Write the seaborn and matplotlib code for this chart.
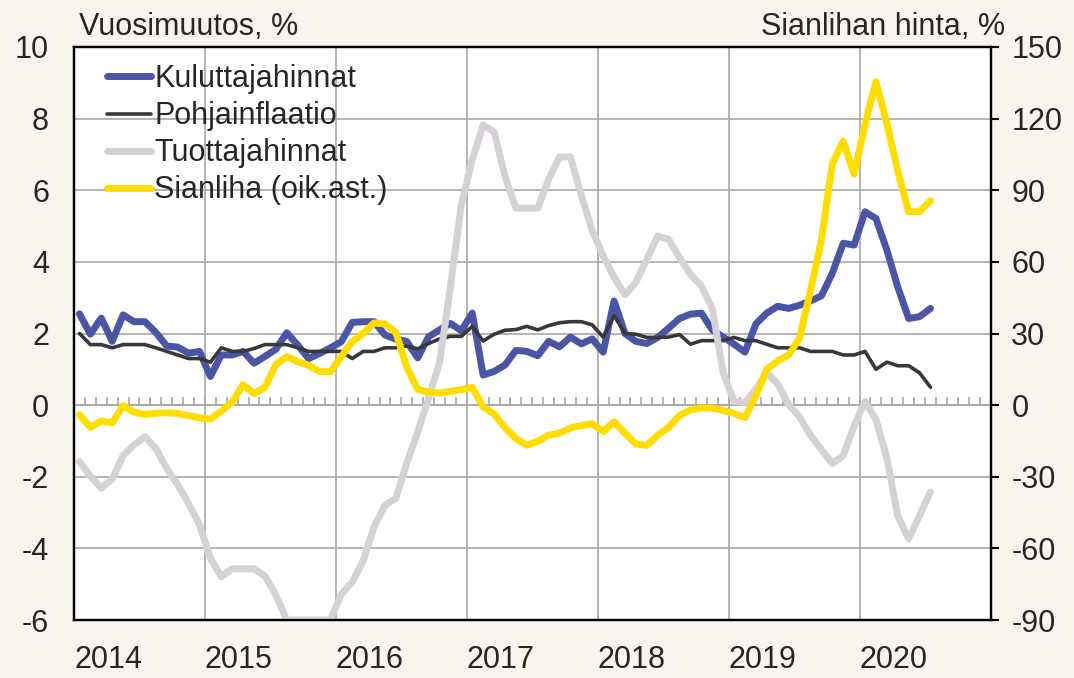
import numpy as np
import pandas as pd
import matplotlib
matplotlib.use('Agg')
import matplotlib.pyplot as plt
from matplotlib.ticker import MultipleLocator
import seaborn as sns

# Monthly data, Jan 2014 - Jul 2020
kuluttajahinnat = [2.55, 1.98, 2.43, 1.78, 2.52, 2.33, 2.33, 2.03, 1.65, 1.62, 1.45, 1.5,
                   0.8, 1.4, 1.4, 1.5, 1.17, 1.36, 1.56, 2.02, 1.68, 1.3, 1.44, 1.6,
                   1.77, 2.31, 2.33, 2.33, 1.96, 1.84, 1.78, 1.32, 1.91, 2.1, 2.28, 2.08,
                   2.57, 0.84, 0.94, 1.12, 1.53, 1.5, 1.38, 1.78, 1.63, 1.9, 1.71, 1.85,
                   1.48, 2.91, 2.0, 1.78, 1.72, 1.89, 2.15, 2.42, 2.54, 2.57, 2.1, 1.9,
                   1.7, 1.48, 2.27, 2.57, 2.76, 2.7, 2.79, 2.91, 3.05, 3.68, 4.52, 4.47,
                   5.4, 5.21, 4.33, 3.3, 2.42, 2.47, 2.7]
pohjainflaatio = [2.0, 1.69, 1.69, 1.6, 1.69, 1.69, 1.69, 1.6, 1.5, 1.4, 1.3, 1.3,
                  1.2, 1.6, 1.5, 1.5, 1.58, 1.69, 1.69, 1.69, 1.6, 1.5, 1.5, 1.5,
                  1.5, 1.3, 1.5, 1.5, 1.6, 1.6, 1.65, 1.57, 1.72, 1.85, 1.92, 1.92,
                  2.2, 1.79, 1.98, 2.09, 2.11, 2.2, 2.1, 2.22, 2.3, 2.33, 2.33, 2.24,
                  1.9, 2.5, 2.0, 1.98, 1.89, 1.89, 1.9, 1.97, 1.7, 1.8, 1.8, 1.8,
                  1.89, 1.8, 1.8, 1.7, 1.6, 1.6, 1.6, 1.5, 1.5, 1.5, 1.4, 1.4,
                  1.5, 1.0, 1.2, 1.1, 1.1, 0.9, 0.5]
tuottajahinnat = [-1.58, -1.98, -2.32, -2.06, -1.41, -1.11, -0.88, -1.21, -1.77, -2.22, -2.75, -3.33,
                  -4.28, -4.79, -4.57, -4.57, -4.57, -4.77, -5.3, -6.0, -6.0, -6.0, -6.0, -6.0,
                  -5.28, -4.94, -4.35, -3.4, -2.8, -2.6, -1.62, -0.75, 0.2, 1.18, 3.3, 5.6,
                  6.85, 7.82, 7.63, 6.4, 5.5, 5.5, 5.5, 6.3, 6.93, 6.93, 5.85, 4.87,
                  4.17, 3.57, 3.08, 3.43, 4.07, 4.72, 4.63, 4.12, 3.65, 3.33, 2.7, 0.9,
                  0.1, 0.07, 0.45, 0.9, 0.59, 0.02, -0.33, -0.84, -1.24, -1.63, -1.41, -0.58,
                  0.1, -0.4, -1.47, -3.1, -3.73, -3.08, -2.42]
sianliha = [-4.0, -9.3, -6.7, -7.4, -0.2, -3.0, -3.9, -3.4, -3.2, -3.5, -4.4, -5.3,
            -5.8, -2.6, 1.3, 8.5, 4.8, 7.4, 17.0, 20.3, 18.2, 16.7, 14.1, 14.0,
            20.3, 26.6, 30.0, 34.4, 34.0, 30.4, 15.9, 6.6, 5.5, 5.0, 5.8, 6.5,
            7.4, -0.8, -3.7, -9.5, -14.0, -16.8, -15.2, -12.6, -11.7, -9.6, -8.5, -7.8,
            -11.1, -7.0, -11.8, -16.3, -16.9, -12.6, -9.3, -4.3, -2.0, -1.2, -1.2, -2.2,
            -3.5, -5.2, 4.0, 15.0, 18.5, 21.0, 28.0, 48.0, 69.0, 101.0, 110.5, 96.7,
            117.5, 135.5, 118.0, 98.0, 81.0, 81.0, 85.7]
years = list(range(2014, 2022))
year_labels = [str(y) for y in years[:-1]] + ['']

df = pd.DataFrame({
    'aika': 2014 + (np.arange(len(kuluttajahinnat)) + 0.5) / 12,
    'Kuluttajahinnat': kuluttajahinnat,
    'Pohjainflaatio': pohjainflaatio,
    'Tuottajahinnat': tuottajahinnat,
    'Sianliha': sianliha,
})

bg = '#F8F4EE'
grid_col = '#A8A8A8'
sns.set_style('white')
plt.rcParams['font.family'] = ['Liberation Sans', 'DejaVu Sans']
plt.rcParams['axes.unicode_minus'] = False
fs = 22
line_kw = dict(legend=False, solid_joinstyle='round', solid_capstyle='round')

fig = plt.figure(figsize=(10.74, 6.78), dpi=100, facecolor=bg)
ax = fig.add_axes([74 / 1074, 1 - 620 / 678, 916.5 / 1074, 573 / 678])
ax.set_facecolor('white')
ax2 = ax.twinx()

sns.lineplot(data=df, x='aika', y='Kuluttajahinnat', ax=ax, color='#4B55A5', lw=5,
             label='Kuluttajahinnat', zorder=3, **line_kw)
sns.lineplot(data=df, x='aika', y='Pohjainflaatio', ax=ax, color='#383838', lw=2.6,
             label='Pohjainflaatio', zorder=4, **line_kw)
sns.lineplot(data=df, x='aika', y='Tuottajahinnat', ax=ax, color='#D6D1D7', lw=5,
             label='Tuottajahinnat', zorder=5, **line_kw)
sns.lineplot(data=df, x='aika', y='Sianliha', ax=ax2, color='#FFDD00', lw=5,
             label='Sianliha (oik.ast.)', zorder=6, **line_kw)

ax.set_xlim(2014, 2021)
ax.set_ylim(-6, 10)
ax2.set_ylim(-90, 150)
ax.set_yticks(range(-6, 11, 2))
ax2.set_yticks(range(-90, 151, 30))
ax.set_xticks(years)
ax.set_xticklabels(year_labels, ha='left')
ax.set_xlabel('')
ax.set_ylabel('')
ax2.set_ylabel('')

ax.grid(True, color=grid_col, lw=1.2)
ax.set_axisbelow(True)
ax2.grid(False)

ax.tick_params(axis='x', length=0, labelsize=fs, pad=18)
ax.tick_params(axis='y', length=0, labelsize=fs, pad=18)
ax2.tick_params(axis='y', length=6, width=1.5, direction='out', color='black',
                labelsize=fs, pad=9)

for a in (ax, ax2):
    for s in a.spines.values():
        s.set_visible(True)
        s.set_color('black')
        s.set_linewidth(1.6)

# month ticks on the zero line
zero = ax.secondary_xaxis(6 / 16)
zero.set_xticks(years)
zero.xaxis.set_minor_locator(MultipleLocator(1 / 12))
zero.tick_params(which='both', direction='in', length=5.5, width=1.2, color=grid_col,
                 labelbottom=False, labeltop=False)
for s in zero.spines.values():
    s.set_color(grid_col)
    s.set_linewidth(1.2)

h1, l1 = ax.get_legend_handles_labels()
h2, l2 = ax2.get_legend_handles_labels()
ax2.legend(h1 + h2, l1 + l2, loc='upper left', bbox_to_anchor=(0.036, 0.97),
           frameon=False, fontsize=fs, handlelength=1.45, handletextpad=0.1,
           labelspacing=0.23, borderpad=0, borderaxespad=0)

fig.text(79 / 1074, 1 - 35 / 678, 'Vuosimuutos, %', fontsize=fs, va='baseline')
fig.text(1005 / 1074, 1 - 35 / 678, 'Sianlihan hinta, %', fontsize=fs, va='baseline', ha='right')

fig.savefig('out.png', dpi=100, facecolor=bg)
